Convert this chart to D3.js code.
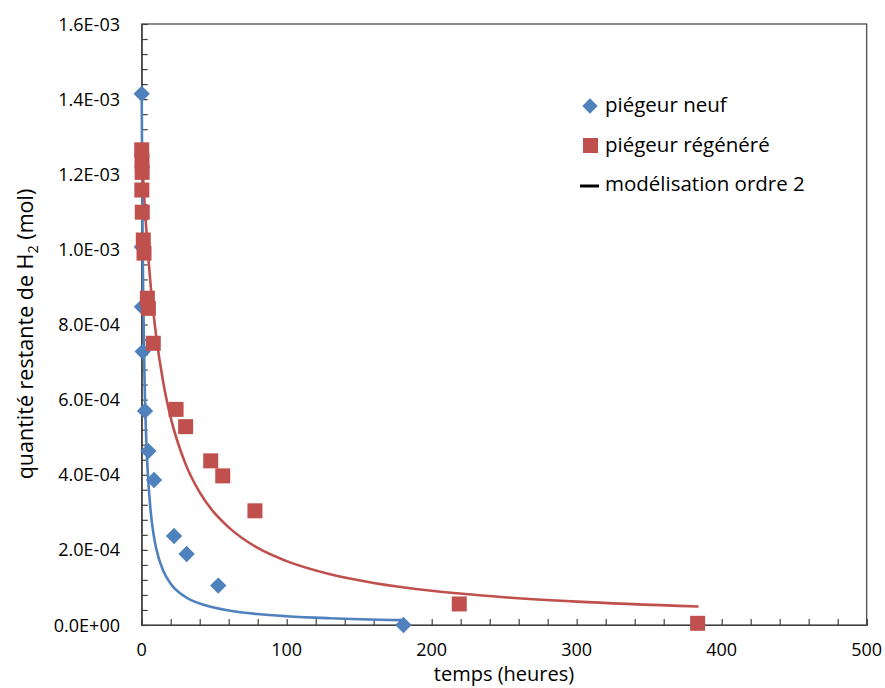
<!DOCTYPE html>
<html>
<head>
<meta charset="utf-8">
<script src="https://cdn.jsdelivr.net/npm/d3@7"></script>
<style>
  html, body { margin: 0; padding: 0; background: #fff; }
  svg { display: block; font-family: "Open Sans", "Liberation Sans", sans-serif; }
</style>
</head>
<body>
<script>
// ---- data (quantities in mol) ----
const neufTemps = [0, 0.1, 0.2, 0.7, 2.3, 4.6, 8.5, 22.3, 31, 52.8, 180.5];
const neufQuantite = [1.414e-3, 1.006e-3, 0.847e-3, 0.728e-3, 0.570e-3, 0.463e-3, 0.386e-3, 0.237e-3, 0.189e-3, 0.105e-3, 0.0];

const regenTemps = [0, 0.2, 0.3, 0.1, 0.4, 1.1, 1.6, 3.9, 4.6, 8.0, 23.7, 30.3, 47.6, 55.9, 78.1, 219, 383.4];
const regenQuantite = [1.265e-3, 1.235e-3, 1.205e-3, 1.158e-3, 1.099e-3, 1.025e-3, 0.990e-3, 0.870e-3, 0.843e-3, 0.750e-3, 0.574e-3, 0.528e-3, 0.437e-3, 0.397e-3, 0.304e-3, 0.056e-3, 0.0045e-3];

const modeleNeufTemps = [0, 0.5, 1, 2, 3, 4, 6, 8, 10, 15, 20, 30, 45, 60, 80, 100, 130, 180];
const modeleNeufQuantite = [1.414e-3, 1.091e-3, 0.887e-3, 0.646e-3, 0.508e-3, 0.419e-3, 0.310e-3, 0.246e-3, 0.204e-3, 0.143e-3, 0.110e-3, 0.0751e-3, 0.0510e-3, 0.0386e-3, 0.0291e-3, 0.0234e-3, 0.0181e-3, 0.0131e-3];

const modeleRegenTemps = [0, 1, 2, 4, 6, 8, 10, 15, 20, 30, 40, 50, 60, 80, 100, 130, 160, 200, 250, 300, 384];
const modeleRegenQuantite = [1.266e-3, 1.189e-3, 1.121e-3, 1.006e-3, 0.912e-3, 0.835e-3, 0.769e-3, 0.643e-3, 0.552e-3, 0.431e-3, 0.353e-3, 0.299e-3, 0.260e-3, 0.205e-3, 0.170e-3, 0.135e-3, 0.112e-3, 0.0910e-3, 0.0739e-3, 0.0622e-3, 0.0491e-3];

const xTicks = [0, 100, 200, 300, 400, 500];
const yTicks = [0, 0.2e-3, 0.4e-3, 0.6e-3, 0.8e-3, 1.0e-3, 1.2e-3, 1.4e-3, 1.6e-3];
const legendLabels = ["piégeur neuf", "piégeur régénéré", "modélisation ordre 2"];

// ---- layout ----
const W = 885, H = 688;
const pL = 141.7, pR = 866.7, pT = 24, pB = 625;
const blue = "#4F81BD", red = "#C0504D", axisColor = "#404040";

const svg = d3.select("body").append("svg").attr("width", W).attr("height", H);

const x = d3.scaleLinear().domain([0, 500]).range([pL, pR]);
const y = d3.scaleLinear().domain([0, 1.6e-3]).range([pB, pT]);

function fmtE(v) {
  if (v === 0) return "0.0E+00";
  const parts = v.toExponential(1).toUpperCase().split("E");
  const e = parts[1];
  const sign = e[0] === "-" ? "-" : "+";
  const num = Math.abs(parseInt(e, 10));
  return parts[0] + "E" + sign + (num < 10 ? "0" + num : num);
}

// plot border
svg.append("rect").attr("x", pL).attr("y", pT)
  .attr("width", pR - pL).attr("height", pB - pT)
  .attr("fill", "none").attr("stroke", axisColor).attr("stroke-width", 1.2);

// minor ticks (inside)
const xMinor = d3.range(0, 501, 20);
const yMinor = d3.range(0, 41).map(i => i * 0.04e-3);

const xAxis = d3.axisBottom(x).tickValues(xMinor).tickSize(-6).tickFormat("");
const gx = svg.append("g").attr("transform", `translate(0,${pB})`).call(xAxis);
gx.select(".domain").attr("stroke", axisColor).attr("stroke-width", 1.2);
gx.selectAll(".tick line").attr("stroke", axisColor).attr("stroke-width", 1.2);

const yAxis = d3.axisLeft(y).tickValues(yMinor).tickSize(-6).tickFormat("");
const gy = svg.append("g").attr("transform", `translate(${pL},0)`).call(yAxis);
gy.select(".domain").attr("stroke", axisColor).attr("stroke-width", 1.2);
gy.selectAll(".tick line").attr("stroke", axisColor).attr("stroke-width", 1.2);

// tick labels
svg.append("g").selectAll("text").data(xTicks).join("text")
  .attr("x", d => x(d)).attr("y", 656)
  .attr("text-anchor", "middle").attr("font-size", 18).attr("fill", "#000")
  .text(d => d);

svg.append("g").selectAll("text").data(yTicks).join("text")
  .attr("x", 120).attr("y", d => y(d) + 6.5)
  .attr("text-anchor", "end").attr("font-size", 18).attr("fill", "#000")
  .text(d => fmtE(d));

// axis titles
svg.append("text").attr("x", 504).attr("y", 681)
  .attr("text-anchor", "middle").attr("font-size", 20).attr("fill", "#000")
  .text("temps (heures)");

const yt = svg.append("text")
  .attr("transform", "translate(33,334) rotate(-90)")
  .attr("text-anchor", "middle").attr("font-size", 21.5).attr("fill", "#000");
yt.append("tspan").text("quantité restante de H");
yt.append("tspan").attr("font-size", 14.5).attr("dy", 5).text("2");
yt.append("tspan").attr("dy", -5).text(" (mol)");

// model lines
const line = d3.line().x(d => x(d[0])).y(d => y(d[1])).curve(d3.curveMonotoneX);
svg.append("path").datum(d3.zip(modeleNeufTemps, modeleNeufQuantite))
  .attr("d", line).attr("fill", "none").attr("stroke", blue).attr("stroke-width", 2.6);
svg.append("path").datum(d3.zip(modeleRegenTemps, modeleRegenQuantite))
  .attr("d", line).attr("fill", "none").attr("stroke", red).attr("stroke-width", 2.6);

// markers
const diamond = d3.symbol().type(d3.symbolDiamond2).size(170);
svg.append("g").selectAll("path").data(d3.zip(neufTemps, neufQuantite)).join("path")
  .attr("d", diamond)
  .attr("transform", d => `translate(${x(d[0])},${y(d[1])})`)
  .attr("fill", blue);

const sq = 15;
svg.append("g").selectAll("rect").data(d3.zip(regenTemps, regenQuantite)).join("rect")
  .attr("x", d => x(d[0]) - sq / 2).attr("y", d => y(d[1]) - sq / 2)
  .attr("width", sq).attr("height", sq).attr("fill", red);

// legend
const lg = svg.append("g");
const rowsY = [112, 152, 191];
lg.append("path").attr("d", d3.symbol().type(d3.symbolDiamond2).size(150))
  .attr("transform", `translate(590,${rowsY[0] - 6})`).attr("fill", blue);
lg.append("rect").attr("x", 583).attr("y", rowsY[1] - 14).attr("width", 15).attr("height", 15).attr("fill", red);
lg.append("line").attr("x1", 580).attr("x2", 599).attr("y1", rowsY[2] - 5).attr("y2", rowsY[2] - 5)
  .attr("stroke", "#000").attr("stroke-width", 3);
lg.selectAll("text").data(legendLabels).join("text")
  .attr("x", 605).attr("y", (d, i) => rowsY[i])
  .attr("font-size", 20.5).attr("fill", "#000")
  .text(d => d);
</script>
</body>
</html>
